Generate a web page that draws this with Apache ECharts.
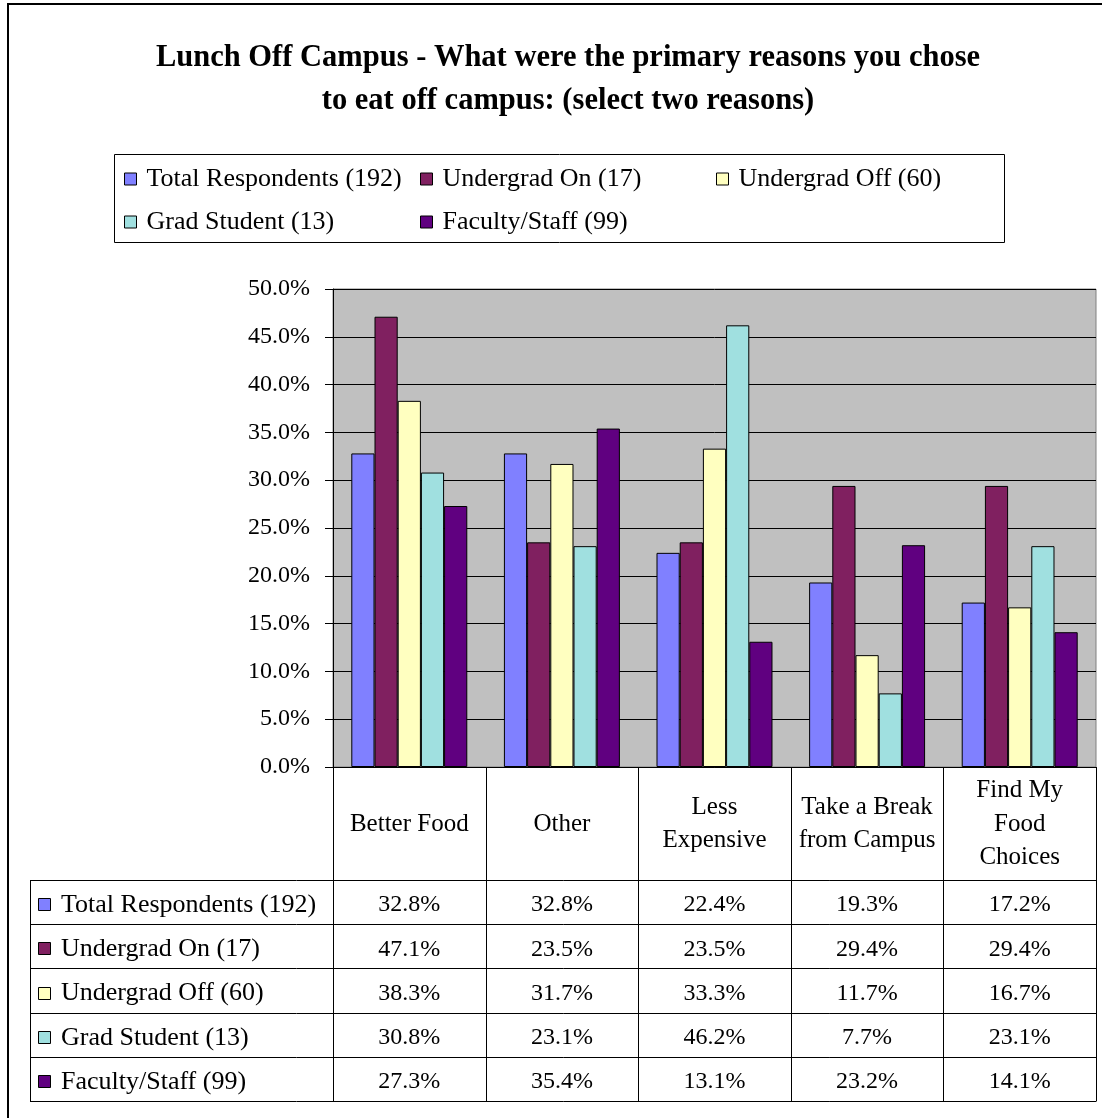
<!DOCTYPE html>
<html>
<head>
<meta charset="utf-8">
<script src="https://cdn.jsdelivr.net/npm/echarts@6/dist/echarts.min.js"></script>
<style>
html,body{margin:0;padding:0;background:#fff;}
#c{width:1102px;height:1118px;}
</style>
</head>
<body>
<div id="c"></div>
<script>
var categories = ['Better Food', 'Other', 'Less\nExpensive', 'Take a Break\nfrom Campus', 'Find My\nFood\nChoices'];
var seriesNames = ['Total Respondents (192)', 'Undergrad On (17)', 'Undergrad Off (60)', 'Grad Student (13)', 'Faculty/Staff (99)'];
var totalRespondents = [32.8, 32.8, 22.4, 19.3, 17.2];
var undergradOn = [47.1, 23.5, 23.5, 29.4, 29.4];
var undergradOff = [38.3, 31.7, 33.3, 11.7, 16.7];
var gradStudent = [30.8, 23.1, 46.2, 7.7, 23.1];
var facultyStaff = [27.3, 35.4, 13.1, 23.2, 14.1];
var seriesColors = ['#8080FF', '#802060', '#FFFFC0', '#A0E0E0', '#600080'];
var yTicks = [0, 50, 5];

var allData = [totalRespondents, undergradOn, undergradOff, gradStudent, facultyStaff];
var FONT = 'Liberation Serif';
var GL = 333, GR = 1096, GT = 289, GB = 767;

var chart = echarts.init(document.getElementById('c'), null, {renderer: 'canvas'});

var series = seriesNames.map(function (n, i) {
  return {
    name: n, type: 'bar', data: allData[i],
    barGap: '0%', barCategoryGap: '24%',
    itemStyle: {color: seriesColors[i], borderColor: '#000', borderWidth: 1},
    emphasis: {disabled: true}
  };
});

function legendCfg(names, left) {
  return {
    orient: 'vertical', left: left, top: 165, itemGap: 15,
    itemWidth: 12, itemHeight: 12, icon: 'rect', padding: 0,
    selectedMode: false,
    data: names,
    itemStyle: {borderColor: '#000', borderWidth: 1},
    textStyle: {fontFamily: FONT, fontSize: 26, color: '#000', lineHeight: 26, padding: [2, 0, 0, 5]}
  };
}

chart.setOption({
  animation: false,
  backgroundColor: '#fff',
  title: {
    text: 'Lunch Off Campus - What were the primary reasons you chose\nto eat off campus: (select two reasons)',
    left: 563, textAlign: 'center', top: 32,
    textStyle: {fontFamily: FONT, fontSize: 30.5, fontWeight: 'bold', color: '#000', lineHeight: 43}
  },
  legend: [
    legendCfg([seriesNames[0], seriesNames[3]], 124),
    legendCfg([seriesNames[1], seriesNames[4]], 420),
    legendCfg([seriesNames[2]], 716)
  ],
  grid: {
    left: GL, top: GT, width: GR - GL, height: GB - GT,
    show: true, backgroundColor: '#C0C0C0', borderColor: '#808080', borderWidth: 1,
    containLabel: false
  },
  xAxis: {
    type: 'category', data: categories,
    axisLine: {show: true, lineStyle: {color: '#000', width: 1}},
    axisTick: {show: false},
    axisLabel: {
      interval: 0, margin: 57, verticalAlign: 'middle',
      fontFamily: FONT, fontSize: 25, color: '#000', lineHeight: 33.5, align: 'center'
    },
    splitLine: {show: false}
  },
  yAxis: {
    type: 'value', min: yTicks[0], max: yTicks[1], interval: yTicks[2],
    axisLine: {show: true, lineStyle: {color: '#000'}},
    axisTick: {show: true, length: 8, lineStyle: {color: '#000'}},
    axisLabel: {
      margin: 23, fontFamily: FONT, fontSize: 24, color: '#000',
      formatter: function (v) { return v.toFixed(1) + '%'; }
    },
    splitLine: {show: true, lineStyle: {color: '#000', width: 1}}
  },
  series: series
});

// Data table below the chart, columns aligned with the category axis
var headerBottom = 880, rowH = 44.2, tableLeft = 30;
var nRows = seriesNames.length;
var tableBottom = headerBottom + rowH * nRows;
var g = [];
var lineStyle = {stroke: '#000', lineWidth: 1};
// outer frame of the whole picture
g.push({type: 'rect', shape: {x: 8, y: 4, width: 1200, height: 1200}, style: {fill: null, stroke: '#000', lineWidth: 2}, silent: true});

var centers = categories.map(function (c, i) { return chart.convertToPixel({xAxisIndex: 0}, i); });
var colW = centers.length > 1 ? centers[1] - centers[0] : (GR - GL);
var bounds = [];
for (var i = 0; i <= categories.length; i++) {
  bounds.push(i < categories.length ? centers[i] - colW / 2 : centers[i - 1] + colW / 2);
}
bounds.forEach(function (x) {
  x = Math.round(x) + 0.5;
  g.push({type: 'line', shape: {x1: x, y1: GB, x2: x, y2: tableBottom}, style: lineStyle, silent: true});
});
g.push({type: 'line', shape: {x1: tableLeft + 0.5, y1: headerBottom, x2: tableLeft + 0.5, y2: tableBottom}, style: lineStyle, silent: true});
for (var r = 0; r <= nRows; r++) {
  var y = Math.round(headerBottom + r * rowH) + 0.5;
  g.push({type: 'line', shape: {x1: tableLeft, y1: y, x2: Math.round(bounds[bounds.length - 1]) + 0.5, y2: y}, style: lineStyle, silent: true});
}
for (var r = 0; r < nRows; r++) {
  var cy = headerBottom + (r + 0.5) * rowH + 3;
  g.push({type: 'rect', shape: {x: 38.5, y: Math.round(cy - 7) + 0.5, width: 12, height: 12},
    style: {fill: seriesColors[r], stroke: '#000', lineWidth: 1}, silent: true});
  g.push({type: 'text', x: 61, y: cy, style: {text: seriesNames[r], font: '26px "' + FONT + '"', fill: '#000', verticalAlign: 'middle', align: 'left'}, silent: true});
  allData[r].forEach(function (v, ci) {
    g.push({type: 'text', x: centers[ci], y: cy, style: {text: v.toFixed(1) + '%', font: '24px "' + FONT + '"', fill: '#000', verticalAlign: 'middle', align: 'center'}, silent: true});
  });
}
// legend frame
g.push({type: 'rect', shape: {x: 114.5, y: 154.5, width: 890, height: 88}, style: {fill: null, stroke: '#000', lineWidth: 1}, silent: true});

chart.setOption({graphic: g});
</script>
</body>
</html>
